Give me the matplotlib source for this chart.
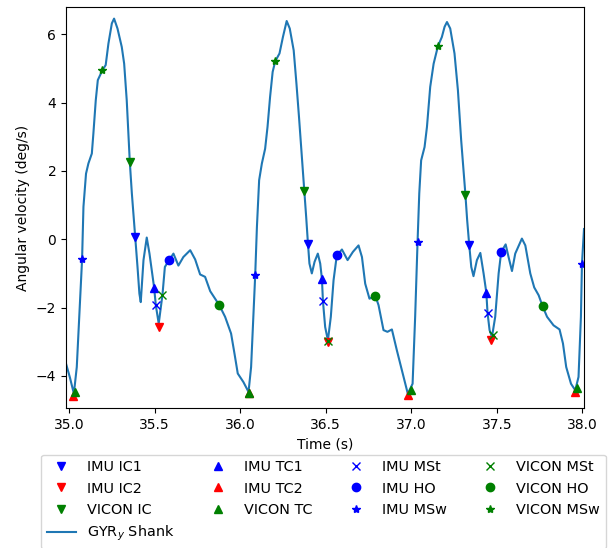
import numpy as np
import matplotlib
matplotlib.use('Agg')
import matplotlib.pyplot as plt

# shank gyroscope trace (time in s, angular velocity in deg/s)
t = [34.982, 35.005, 35.028, 35.045, 35.064, 35.076, 35.084, 35.099, 35.113, 35.133,
     35.142, 35.156, 35.168, 35.195, 35.214, 35.230, 35.250, 35.263, 35.283, 35.308,
     35.322, 35.337, 35.355, 35.367, 35.386, 35.400, 35.411, 35.419, 35.435, 35.454,
     35.470, 35.497, 35.507, 35.524, 35.546, 35.560, 35.585, 35.610, 35.639, 35.668,
     35.708, 35.737, 35.766, 35.795, 35.825, 35.877, 35.912, 35.947, 35.967, 35.986,
     36.019, 36.049, 36.064, 36.076, 36.088, 36.098, 36.111, 36.127, 36.146, 36.160,
     36.175, 36.190, 36.205, 36.230, 36.250, 36.272, 36.290, 36.313, 36.329, 36.344,
     36.358, 36.374, 36.386, 36.396, 36.405, 36.419, 36.435, 36.454, 36.468, 36.478,
     36.484, 36.497, 36.513, 36.530, 36.546, 36.565, 36.595, 36.628, 36.659, 36.692,
     36.712, 36.731, 36.756, 36.790, 36.809, 36.838, 36.861, 36.887, 36.916, 36.955,
     36.980, 37.008, 37.023, 37.037, 37.047, 37.058, 37.078, 37.092, 37.111, 37.131,
     37.156, 37.179, 37.195, 37.209, 37.228, 37.253, 37.273, 37.292, 37.316, 37.327,
     37.339, 37.351, 37.364, 37.384, 37.404, 37.423, 37.439, 37.446, 37.458, 37.472,
     37.491, 37.511, 37.526, 37.552, 37.569, 37.589, 37.608, 37.647, 37.667, 37.696,
     37.719, 37.745, 37.768, 37.794, 37.832, 37.867, 37.887, 37.906, 37.934, 37.959,
     37.978, 37.992, 37.998, 38.010]
gyr = [-3.64, -4.05, -4.52, -3.74, -1.79, -0.59, 0.95, 1.92, 2.22, 2.51,
       3.09, 4.07, 4.66, 4.95, 5.10, 5.73, 6.32, 6.46, 6.17, 5.63,
       5.14, 4.07, 2.26, 1.34, 0.10, -0.81, -1.59, -1.84, -0.61, 0.05,
       -0.42, -1.41, -1.93, -2.47, -1.62, -0.81, -0.61, -0.42, -0.77, -0.52,
       -0.32, -0.59, -1.03, -1.10, -1.52, -1.92, -2.27, -2.76, -3.35, -3.93,
       -4.18, -4.47, -3.74, -2.37, -1.05, 0.36, 1.73, 2.22, 2.65, 3.29,
       4.17, 4.90, 5.21, 5.44, 5.92, 6.39, 6.17, 5.53, 4.56, 3.58,
       2.61, 1.46, 0.65, -0.10, -0.71, -1.00, -0.66, -0.42, -0.71, -1.16,
       -1.81, -2.57, -2.96, -2.27, -1.20, -0.47, -0.30, -0.61, -0.37, -0.18,
       -0.52, -1.30, -1.74, -1.65, -1.93, -2.66, -2.71, -2.64, -3.25, -4.03,
       -4.52, -4.23, -2.27, -0.08, 1.34, 2.31, 2.70, 3.29, 4.46, 5.14,
       5.65, 5.92, 6.22, 6.36, 6.17, 5.44, 4.36, 2.90, 1.36, 0.56,
       -0.16, -0.81, -1.08, -0.61, -0.40, -1.00, -1.56, -2.15, -2.66, -2.86,
       -2.27, -1.00, -0.37, -0.15, -0.52, -0.93, -0.42, 0.02, -0.18, -1.00,
       -1.41, -1.64, -1.96, -2.27, -2.52, -2.64, -3.05, -3.74, -4.23, -4.42,
       -4.03, -2.27, -0.73, 0.30]

# gait events: (times, values)
imu_ic1 = ([35.386, 36.396, 37.339], [0.07, -0.14, -0.18])
imu_ic2 = ([35.526, 36.513, 37.466], [-2.58, -3.01, -2.96])
vicon_ic = ([35.355, 36.374, 37.316], [2.25, 1.41, 1.30])
imu_tc1 = ([35.497, 36.478, 37.439], [-1.44, -1.16, -1.57])
imu_tc2 = ([35.025, 36.049, 36.984, 37.959], [-4.58, -4.49, -4.57, -4.47])
vicon_tc = ([35.035, 36.049, 36.998, 37.969], [-4.47, -4.49, -4.40, -4.36])
imu_mst = ([35.507, 36.484, 37.446], [-1.93, -1.81, -2.15])
vicon_mst = ([35.546, 36.516, 37.478], [-1.62, -2.98, -2.81])
imu_ho = ([35.585, 36.565, 37.526], [-0.61, -0.47, -0.37])
vicon_ho = ([35.877, 36.790, 37.768], [-1.91, -1.65, -1.96])
imu_msw = ([35.076, 36.088, 37.037, 37.998], [-0.59, -1.05, -0.08, -0.73])
vicon_msw = ([35.195, 36.205, 37.156], [4.95, 5.21, 5.65])

fig = plt.figure(figsize=(6.13, 5.48), dpi=100)
ax = fig.add_axes([66/613, 1 - 408/548, (584 - 66)/613, (408 - 7)/548])

line, = ax.plot(t, gyr, color='C0', label='GYR$_y$ Shank')
h = {}
h['IMU IC1'], = ax.plot(*imu_ic1, 'bv', label='IMU IC1')
h['IMU IC2'], = ax.plot(*imu_ic2, 'rv', label='IMU IC2')
h['VICON IC'], = ax.plot(*vicon_ic, 'gv', label='VICON IC')
h['IMU TC1'], = ax.plot(*imu_tc1, 'b^', label='IMU TC1')
h['IMU TC2'], = ax.plot(*imu_tc2, 'r^', label='IMU TC2')
h['VICON TC'], = ax.plot(*vicon_tc, 'g^', label='VICON TC')
h['IMU MSt'], = ax.plot(*imu_mst, 'bx', label='IMU MSt')
h['VICON MSt'], = ax.plot(*vicon_mst, 'gx', label='VICON MSt')
h['IMU HO'], = ax.plot(*imu_ho, 'bo', label='IMU HO')
h['VICON HO'], = ax.plot(*vicon_ho, 'go', label='VICON HO')
h['IMU MSw'], = ax.plot(*imu_msw, 'b*', label='IMU MSw')
h['VICON MSw'], = ax.plot(*vicon_msw, 'g*', label='VICON MSw')

ax.set_xlim(34.982, 38.01)
ax.set_ylim(-4.94, 6.8)
ax.set_xticks([35.0, 35.5, 36.0, 36.5, 37.0, 37.5, 38.0])
ax.set_yticks([-4, -2, 0, 2, 4, 6])
ax.set_xlabel('Time (s)')
ax.set_ylabel('Angular velocity (deg/s)')

order = ['IMU IC1', 'IMU IC2', 'VICON IC', None, 'IMU TC1', 'IMU TC2', 'VICON TC',
         'IMU MSt', 'IMU HO', 'IMU MSw', 'VICON MSt', 'VICON HO', 'VICON MSw']
handles = [line if k is None else h[k] for k in order]
ax.legend(handles, [hd.get_label() for hd in handles], ncol=4, fontsize=10.4,
          loc='upper center', bbox_to_anchor=(0.497, -0.098))

fig.savefig('out.png', dpi=100)
